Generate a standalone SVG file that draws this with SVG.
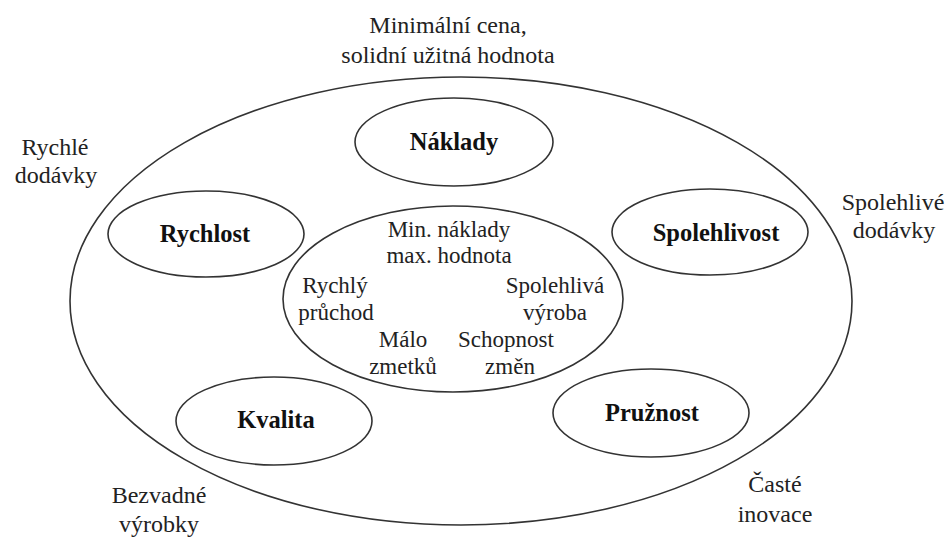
<svg xmlns="http://www.w3.org/2000/svg" width="949" height="538" viewBox="0 0 949 538">
<style>
.e{fill:none;stroke:#333;stroke-width:1.6}
.t{font-family:"Liberation Serif","Times New Roman",serif;font-size:24px;fill:#222;text-anchor:middle}
.b{font-family:"Liberation Serif","Times New Roman",serif;font-size:24.5px;font-weight:bold;fill:#111;text-anchor:middle}
.i{font-family:"Liberation Serif","Times New Roman",serif;font-size:23px;fill:#222;text-anchor:middle}
</style>
<rect width="949" height="538" fill="#fff"/>
<g id="outer">
<ellipse class="e" cx="461" cy="301" rx="391" ry="224"/>
</g>
<g id="naklady"><ellipse class="e" cx="454" cy="142" rx="99" ry="44"/><text class="b" x="454" y="150">Náklady</text></g>
<g id="rychlost"><ellipse class="e" cx="206" cy="234" rx="98" ry="43"/><text class="b" x="205" y="242">Rychlost</text></g>
<g id="spolehlivost"><ellipse class="e" cx="710" cy="232" rx="98" ry="43"/><text class="b" x="716" y="241">Spolehlivost</text></g>
<g id="kvalita"><ellipse class="e" cx="274" cy="421" rx="98" ry="44"/><text class="b" x="276" y="428">Kvalita</text></g>
<g id="pruznost"><ellipse class="e" cx="651" cy="413" rx="98" ry="44"/><text class="b" x="652" y="421">Pružnost</text></g>
<g id="center">
<ellipse class="e" cx="453" cy="299" rx="170" ry="93"/>
<text class="i" x="449" y="237">Min. náklady</text>
<text class="i" x="449" y="263">max. hodnota</text>
<text class="i" x="335" y="293">Rychlý</text>
<text class="i" x="336" y="320">průchod</text>
<text class="i" x="555" y="293">Spolehlivá</text>
<text class="i" x="555" y="320">výroba</text>
<text class="i" x="403" y="347">Málo</text>
<text class="i" x="403" y="374">zmetků</text>
<text class="i" x="506" y="347">Schopnost</text>
<text class="i" x="510" y="374">změn</text>
</g>
<g id="labels">
<text class="t" x="448" y="33">Minimální cena,</text>
<text class="t" x="448" y="63">solidní užitná hodnota</text>
<text class="t" x="55" y="155">Rychlé</text>
<text class="t" x="56" y="183">dodávky</text>
<text class="t" x="893" y="210">Spolehlivé</text>
<text class="t" x="894" y="238">dodávky</text>
<text class="t" x="159" y="503">Bezvadné</text>
<text class="t" x="159" y="532">výrobky</text>
<text class="t" x="775" y="492">Časté</text>
<text class="t" x="775" y="522">inovace</text>
</g>
<g id="connectors"></g>
</svg>
